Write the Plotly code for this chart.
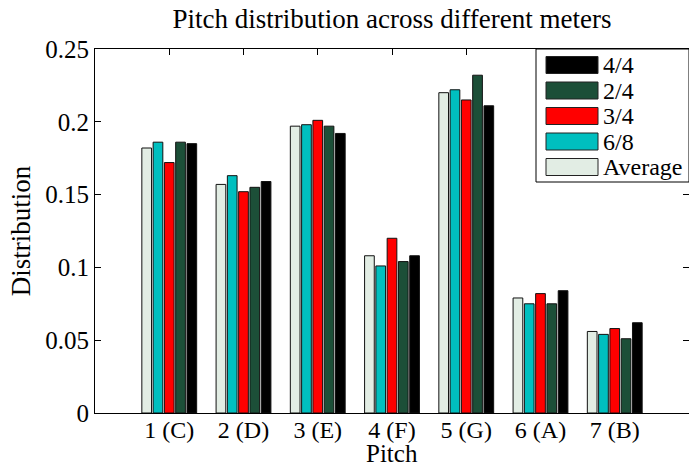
import plotly.graph_objects as go

# Pitch classes (scale degrees) on the x axis
pitches = [1, 2, 3, 4, 5, 6, 7]
pitch_labels = ["1 (C)", "2 (D)", "3 (E)", "4 (F)", "5 (G)", "6 (A)", "7 (B)"]

# Relative frequency of each pitch class per meter
average = [0.182, 0.157, 0.197, 0.108, 0.220, 0.079, 0.056]
six_eight = [0.186, 0.163, 0.198, 0.101, 0.222, 0.075, 0.054]
three_four = [0.172, 0.152, 0.201, 0.120, 0.215, 0.082, 0.058]
two_four = [0.186, 0.155, 0.197, 0.104, 0.232, 0.075, 0.051]
four_four = [0.185, 0.159, 0.192, 0.108, 0.211, 0.084, 0.062]

y_ticks = [0, 0.05, 0.1, 0.15, 0.2, 0.25]
y_tick_text = ["0", "0.05", "0.1", "0.15", "0.2", "0.25"]

# Series drawn left-to-right inside each group
series = [
    ("Average", average, "#e2ede4"),
    ("6/8", six_eight, "#00bfbf"),
    ("3/4", three_four, "#ff0000"),
    ("2/4", two_four, "#1c4f38"),
    ("4/4", four_four, "#000000"),
]

FONT = "Liberation Serif, Times New Roman, serif"
W, H = 689, 469
ML, MR, MT, MB = 95, 0, 49, 56
PW, PH = W - ML - MR, H - MT - MB

fig = go.Figure()
for name, vals, color in series:
    fig.add_trace(go.Bar(
        x=pitches, y=vals, name=name,
        marker=dict(color=color, line=dict(color="#111111", width=1)),
        showlegend=False,
    ))


def px_x(p):
    return (p - ML) / PW


def px_y(p):
    return (H - MB - p) / PH


# Boxed legend in the upper-right corner, listed in reverse plotting order
shapes = [dict(type="rect", xref="paper", yref="paper",
               x0=px_x(536), x1=px_x(689), y0=px_y(182), y1=px_y(49),
               line=dict(color="black", width=1), fillcolor="white", layer="above")]
annotations = []
row_centers = [65, 90.5, 116, 141.5, 167]
for (name, _, color), yc in zip(reversed(series), row_centers):
    shapes.append(dict(type="rect", xref="paper", yref="paper",
                       x0=px_x(546), x1=px_x(598), y0=px_y(yc + 8.5), y1=px_y(yc - 8.5),
                       line=dict(color="#222222", width=1), fillcolor=color, layer="above"))
    annotations.append(dict(xref="paper", yref="paper", x=px_x(601), y=px_y(yc),
                            xanchor="left", yanchor="middle", text=name, showarrow=False,
                            font=dict(family=FONT, size=24, color="black")))

# x-axis title sits just under the tick labels
annotations.append(dict(xref="paper", yref="paper", x=0.5, y=px_y(469),
                        xanchor="center", yanchor="bottom", text="Pitch", showarrow=False,
                        font=dict(family=FONT, size=25, color="black")))

fig.update_layout(
    width=W, height=H,
    margin=dict(l=ML, r=MR, t=MT, b=MB),
    paper_bgcolor="white", plot_bgcolor="white",
    barmode="group", bargap=0.24, bargroupgap=0.14,
    font=dict(family=FONT, size=25, color="black"),
    title=dict(text="Pitch distribution across different meters",
               x=0.5, xref="paper", xanchor="center",
               y=1, yref="container", yanchor="top", pad=dict(t=9),
               font=dict(family=FONT, size=27, color="black")),
    shapes=shapes, annotations=annotations,
)
fig.update_xaxes(
    range=[0, 8], tickvals=pitches, ticktext=pitch_labels,
    showline=True, linecolor="black", linewidth=1, mirror="ticks",
    ticks="inside", ticklen=6, tickcolor="black", showgrid=False, zeroline=False,
    layer="below traces", ticklabelstandoff=-5,
    tickfont=dict(family=FONT, size=24),
)
fig.update_yaxes(
    range=[0, 0.25], tickvals=y_ticks, ticktext=y_tick_text,
    showline=True, linecolor="black", linewidth=1, mirror="ticks",
    ticks="inside", ticklen=6, tickcolor="black", showgrid=False, zeroline=False,
    title=dict(text="Distribution", standoff=6, font=dict(family=FONT, size=27)),
    tickfont=dict(family=FONT, size=25),
)

fig.write_html("out.html")
